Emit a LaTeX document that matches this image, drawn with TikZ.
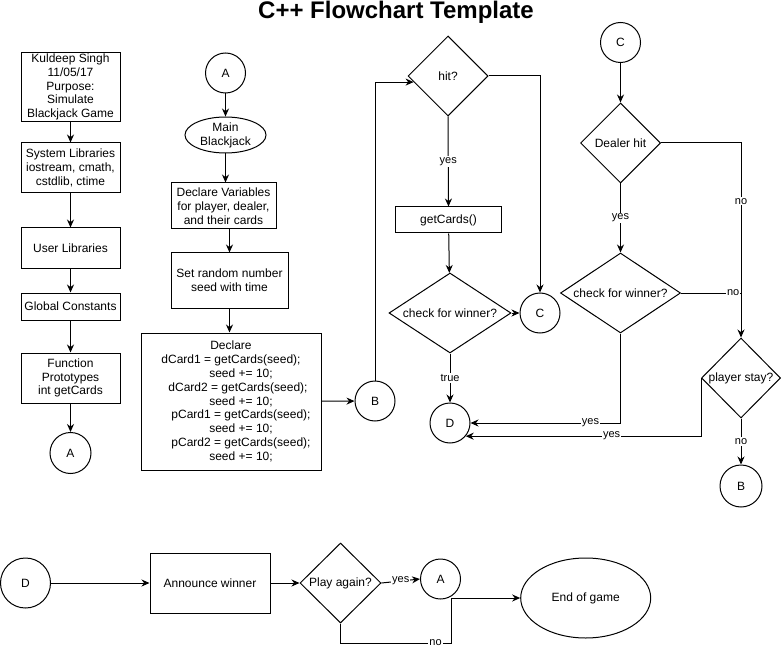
\documentclass[tikz,border=0pt]{standalone}
\usepackage{fontspec}
\setmainfont{Liberation Sans}
\usetikzlibrary{shapes.geometric,arrows.meta,calc}
\tikzset{
  flownode/.style = 	{draw, line width=1pt, inner sep=0pt,
				align=center, font=\fontsize{12}{13.8}\selectfont},
  proc/.style = 	{flownode, shape=rectangle},
  conn/.style = 	{flownode, shape=circle, minimum size=40pt},
  term/.style = 	{flownode, shape=ellipse},
  decide/.style = 	{flownode, shape=diamond, minimum width=80pt, minimum height=80pt},
  wire/.style = 	{line width=1pt},
  arr/.style = 	{wire, -{Stealth[length=8pt,width=7pt]}},
  lbl/.style = 	{fill=white, inner sep=1pt, font=\fontsize{11}{12}\selectfont},
}
\newcommand{\ind}[1]{\hspace*{#1pt}}
\begin{document}
\begin{tikzpicture}
	[
		x = 1pt,
		y = -1pt
	]
	\useasboundingbox (0,0) rectangle (781,652);
	\node [font=\fontsize{24}{28}\selectfont\bfseries] (title) at (396,12) {C++ Flowchart Template};
	% header column
	\node [proc, minimum width=99pt, minimum height=69pt] (info) at (70.5,87) {Kuldeep Singh\\11/05/17\\Purpose:\\Simulate\\Blackjack Game};
	\node [proc, minimum width=99pt, minimum height=50pt] (syslib) at (70.5,168) {System Libraries\\iostream, cmath,\\cstdlib, ctime};
	\node [proc, minimum width=99pt, minimum height=40pt] (userlib) at (70.5,248) {User Libraries};
	\node [proc, minimum width=99pt, minimum height=27pt] (globals) at (70.5,306.5) {Global Constants};
	\node [proc, minimum width=99pt, minimum height=50pt] (proto) at (70.5,378) {Function\\Prototypes\\int getCards};
	\node [conn, minimum size=41pt] (A1) at (70.5,453) {A};
	% main
	\node [conn] (A2) at (225.5,73) {A};
	\node [term, minimum width=81pt, minimum height=36pt] (mainbj) at (225.5,135) {Main\\Blackjack};
	\node [proc, minimum width=105pt, minimum height=46pt] (declvar) at (223.5,206) {Declare Variables\\for player, dealer,\\and their cards};
	\node [proc, minimum width=117pt, minimum height=55pt] (seed) at (229.5,280.5) {Set random number\\seed with time};
	\node [proc, minimum width=180pt, minimum height=137pt] (deal) at (231,401.5) {Declare\\dCard1 = getCards(seed);\\\ind{20}seed += 10;\\\ind{14}dCard2 = getCards(seed);\\\ind{20}seed += 10;\\\ind{20}pCard1 = getCards(seed);\\\ind{20}seed += 10;\\\ind{20}pCard2 = getCards(seed);\\\ind{20}seed += 10;};
	\node [conn] (B1) at (375,401) {B};
	% player turn
	\node [decide] (hit) at (448,76) {hit?};
	\node [proc, minimum width=106pt, minimum height=26pt] (getc) at (448.5,220) {getCards()};
	\node [decide, aspect=1.5, minimum width=122pt] (chk1) at (450,313) {check for winner?};
	\node [conn] (C1) at (540,313) {C};
	\node [conn] (D1) at (450,423) {D};
	% dealer turn
	\node [conn] (C2) at (620.5,42.5) {C};
	\node [decide] (dealer) at (620.5,143) {Dealer hit};
	\node [decide, aspect=1.5, minimum width=120pt] (chk2) at (620.5,293) {check for winner?};
	\node [decide, minimum width=79pt] (stay) at (741,378) {player stay?};
	\node [conn, minimum size=42pt] (B2) at (741,486) {B};
	% end of round
	\node [conn, minimum size=50pt] (D2) at (25.5,583) {D};
	\node [proc, minimum width=120pt, minimum height=60pt] (announce) at (210,583) {Announce winner};
	\node [decide, minimum width=81pt] (again) at (340.5,583) {Play again?};
	\node [conn] (A3) at (440.5,579) {A};
	\node [term, minimum width=130pt, minimum height=80pt] (endg) at (585.7,598) {End of game};
	\coordinate (nojog) at (451,643);

	\foreach \from/\to in {info/syslib, syslib/userlib, userlib/globals, globals/proto, proto/A1,
				A2/mainbj, C2/dealer, D2/announce, announce/again, deal/B1, getc/chk1, chk1/C1}
		\draw [arr] (\from) -- (\to);
	\draw [arr] (mainbj.south) -- (mainbj.south |- declvar.north);
	\draw [arr] (seed.north |- declvar.south) -- (seed.north);
	\draw [arr] (seed.south) -- (seed.south |- deal.north);
	% back to the top
	\draw [arr] (B1.north) |- ($(hit.west)!0.15!(hit.south)$);
	\draw [arr] (hit.south) -- node [lbl] {yes} (getc.north);
	\draw [arr] (hit.east) -| (C1.north);
	\draw [arr] (chk1.south) -- node [lbl] {true} (D1.north);
	\draw [arr] (dealer.south) -- node [lbl] {yes} (chk2.north);
	\draw [arr] (dealer.east) -| node [lbl, pos=0.65] {no} (stay.north);
	\draw [wire] (chk2.east) -- node [lbl, pos=0.87] {no} (chk2.east -| stay.north);
	\draw [arr] (chk2.south) |- node [lbl, pos=0.6] {yes} (D1.east);
	\draw [arr] (stay.west) |- node [lbl, pos=0.69] {yes} (D1.-40);
	\draw [arr] (stay.south) -- node [lbl] {no} (B2.north);
	\draw [arr] (again.east) -- node [lbl] {yes} (A3.west);
	\draw [arr] (again.south) |- node [lbl, pos=0.93] {no} (nojog) |- (endg.west);
\end{tikzpicture}
\end{document}
